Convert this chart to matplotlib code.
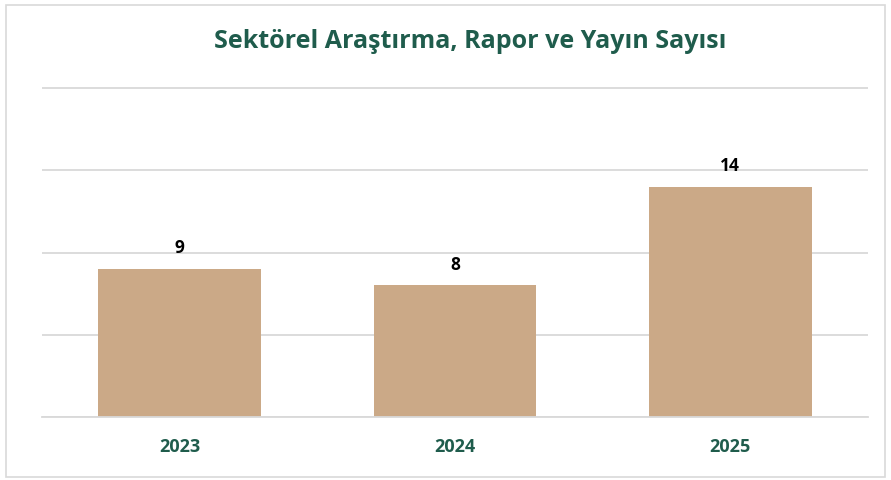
import matplotlib.pyplot as plt
from matplotlib.patches import Rectangle

years = ['2023', '2024', '2025']
counts = [9, 8, 14]

title = 'Sektörel Araştırma, Rapor ve Yayın Sayısı'
green = '#1F5C4C'
bar_color = '#CBA987'
grid_color = '#D9D9D9'

plt.rcParams['font.family'] = ['Open Sans', 'DejaVu Sans']

fig = plt.figure(figsize=(8.91, 4.81), dpi=100)
W, H = 891, 481
# 0 at y=418px, 20 at y=89px; leave a small headroom so the top gridline is not clipped
ymax = 20.3
px_per_unit = (418 - 89) / 20
top_px = 418 - ymax * px_per_unit
ax = fig.add_axes([42 / W, (H - 418) / H, (868 - 42) / W, (418 - top_px) / H])

x = range(len(years))
ax.bar(x, counts, width=0.59, color=bar_color, zorder=2)
for xi, v in zip(x, counts):
    ax.annotate(str(v), (xi, v), xytext=(0, 9), textcoords='offset points',
                ha='center', va='bottom', fontsize=12.5, fontweight='bold', color='black')

ax.set_xlim(-0.5, len(years) - 0.5)
ax.set_ylim(0, ymax)
ax.set_yticks([0, 5, 10, 15, 20])
ax.yaxis.grid(True, color=grid_color, linewidth=1.3, zorder=0)
ax.tick_params(axis='y', left=False, labelleft=False)
ax.tick_params(axis='x', bottom=False, pad=11)
ax.set_xticks(list(x))
ax.set_xticklabels(years, fontsize=13, fontweight='bold', color=green)
for s in ['top', 'right', 'left']:
    ax.spines[s].set_visible(False)
ax.spines['bottom'].set_color(grid_color)
ax.spines['bottom'].set_linewidth(1.3)

fig.text(470 / W, 1 - 42 / H, title, ha='center', va='center',
         fontsize=18, fontweight='bold', color=green)

fig.patches.append(Rectangle((6 / W, 3 / H), (885 - 6) / W, (477 - 5) / H,
                             transform=fig.transFigure, fill=False,
                             edgecolor='#D9D9D9', linewidth=1.2))

fig.savefig('out.png', dpi=100)
